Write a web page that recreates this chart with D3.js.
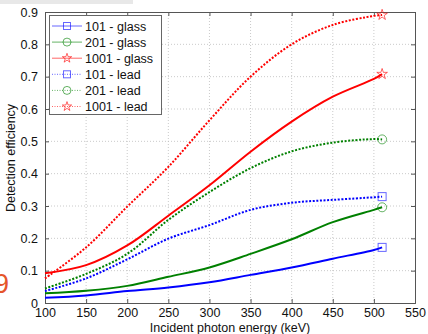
<!DOCTYPE html>
<html>
<head>
<meta charset="utf-8">
<script src="https://cdn.jsdelivr.net/npm/d3@7"></script>
<style>
  body { margin: 0; background: #fff; }
  svg { font-family: "Liberation Sans", Arial, sans-serif; }
</style>
</head>
<body>
<svg width="428" height="334"></svg>
<script>
// energies (keV)
const energy = [100, 150, 200, 250, 300, 350, 400, 450, 500, 510];

const glass101  = [0.016, 0.023, 0.037, 0.048, 0.064, 0.087, 0.110, 0.137, 0.164, 0.172];
const glass201  = [0.030, 0.038, 0.053, 0.081, 0.110, 0.152, 0.197, 0.250, 0.288, 0.296];
const glass1001 = [0.092, 0.117, 0.178, 0.270, 0.364, 0.468, 0.561, 0.638, 0.693, 0.708];
const lead101   = [0.037, 0.076, 0.135, 0.199, 0.241, 0.288, 0.310, 0.319, 0.327, 0.329];
const lead201   = [0.045, 0.090, 0.152, 0.257, 0.343, 0.417, 0.469, 0.496, 0.507, 0.506];
const lead1001  = [0.076, 0.172, 0.298, 0.421, 0.565, 0.700, 0.800, 0.860, 0.888, 0.891];

const xTicks = [100, 150, 200, 250, 300, 350, 400, 450, 500, 550];
const yTicks = [0, 0.1, 0.2, 0.3, 0.4, 0.5, 0.6, 0.7, 0.8, 0.9];

const series = [
  {name: "101 - glass",  vals: glass101,  color: "#0000ff", dash: null, mark: "square"},
  {name: "201 - glass",  vals: glass201,  color: "#008000", dash: null, mark: "circle"},
  {name: "1001 - glass", vals: glass1001, color: "#ff0000", dash: null, mark: "star"},
  {name: "101 - lead",   vals: lead101,   color: "#0000ff", dash: "2,1.6", mark: "square"},
  {name: "201 - lead",   vals: lead201,   color: "#008000", dash: "2,1.6", mark: "circle"},
  {name: "1001 - lead",  vals: lead1001,  color: "#ff0000", dash: "2,1.6", mark: "star"}
];

const L = 45, R = 415, T = 12, B = 303;
const svg = d3.select("svg");

// stray bits around the cropped figure
svg.append("rect").attr("x", 0).attr("y", 0).attr("width", 133).attr("height", 4).attr("fill", "#e8e8e8");
svg.append("text").attr("x", -6).attr("y", 293).attr("font-size", 27)
  .attr("fill", "#e5552b").text("9");

const x = d3.scaleLinear().domain([100, 550]).range([L, R]);
const y = d3.scaleLinear().domain([0, 0.9]).range([B, T]);

// grid
const grid = svg.append("g").attr("stroke", "#bdbdbd").attr("stroke-width", 0.8)
  .attr("stroke-dasharray", "1,2");
xTicks.slice(1, -1).forEach(t => grid.append("line")
  .attr("x1", x(t)).attr("x2", x(t)).attr("y1", T).attr("y2", B));
yTicks.slice(1, -1).forEach(t => grid.append("line")
  .attr("x1", L).attr("x2", R).attr("y1", y(t)).attr("y2", y(t)));

// axes (ticks inward, box style)
const fmtY = d => d === 0 ? "0" : d3.format(".1f")(d);
const axB = svg.append("g").attr("transform", `translate(0,${B})`)
  .call(d3.axisBottom(x).tickValues(xTicks).tickSize(-4).tickPadding(5));
const axT = svg.append("g").attr("transform", `translate(0,${T})`)
  .call(d3.axisTop(x).tickValues(xTicks).tickSize(-4).tickFormat(""));
const axL = svg.append("g").attr("transform", `translate(${L},0)`)
  .call(d3.axisLeft(y).tickValues(yTicks).tickSize(-4).tickPadding(7).tickFormat(fmtY));
const axR = svg.append("g").attr("transform", `translate(${R},0)`)
  .call(d3.axisRight(y).tickValues(yTicks).tickSize(-4).tickFormat(""));
[axB, axT, axL, axR].forEach(a => {
  a.select(".domain").attr("stroke", "#555").attr("stroke-width", 1);
  a.selectAll(".tick line").attr("stroke", "#555");
  a.selectAll("text").attr("font-size", 12.5).attr("fill", "#111")
    .attr("font-family", "Liberation Sans, Arial, sans-serif");
});

// curves
const line = d3.line().x(d => x(d[0])).y(d => y(d[1])).curve(d3.curveCatmullRom);
const star = d3.symbol().type(d3.symbolStar);

function marker(g, s, cx, cy, size) {
  const c = s.color;
  if (s.mark === "square") {
    g.append("rect").attr("x", cx - size / 2).attr("y", cy - size / 2)
      .attr("width", size).attr("height", size)
      .attr("fill", "none").attr("stroke", c).attr("stroke-opacity", 0.6);
  } else if (s.mark === "circle") {
    g.append("circle").attr("cx", cx).attr("cy", cy).attr("r", size / 2 + 0.5)
      .attr("fill", "none").attr("stroke", c).attr("stroke-opacity", 0.6);
  } else {
    g.append("path").attr("d", star.size(size * size * 0.55)())
      .attr("transform", `translate(${cx},${cy})`)
      .attr("fill", "none").attr("stroke", c).attr("stroke-opacity", 0.6);
  }
}

series.forEach(s => {
  const pts = energy.map((e, i) => [e, s.vals[i]]);
  svg.append("path").datum(pts).attr("d", line)
    .attr("fill", "none").attr("stroke", s.color).attr("stroke-width", 2)
    .attr("stroke-dasharray", s.dash);
  const last = pts[pts.length - 1];
  marker(svg, s, x(last[0]), y(last[1]), 8);
});

// legend
const lg = svg.append("g");
lg.append("rect").attr("x", 49.5).attr("y", 15.5).attr("width", 112).attr("height", 99)
  .attr("fill", "#fff").attr("stroke", "#666").attr("stroke-width", 1);
series.forEach((s, i) => {
  const cy = 26 + i * 16.1;
  lg.append("line").attr("x1", 52).attr("x2", 82).attr("y1", cy).attr("y2", cy)
    .attr("stroke", s.color).attr("stroke-opacity", 0.6).attr("stroke-width", 1)
    .attr("stroke-dasharray", s.dash ? "1,1.5" : null);
  marker(lg, s, 67, cy, 7);
  lg.append("text").attr("x", 85).attr("y", cy + 4.5).attr("font-size", 12.5)
    .attr("fill", "#111").text(s.name);
});

// axis labels
svg.append("text").attr("x", 230).attr("y", 332).attr("text-anchor", "middle")
  .attr("font-size", 12.5).attr("fill", "#111").text("Incident photon energy (keV)");
svg.append("text").attr("transform", "translate(15,158) rotate(-90)")
  .attr("text-anchor", "middle").attr("font-size", 12.5).attr("fill", "#111")
  .text("Detection efficiency");
</script>
</body>
</html>
